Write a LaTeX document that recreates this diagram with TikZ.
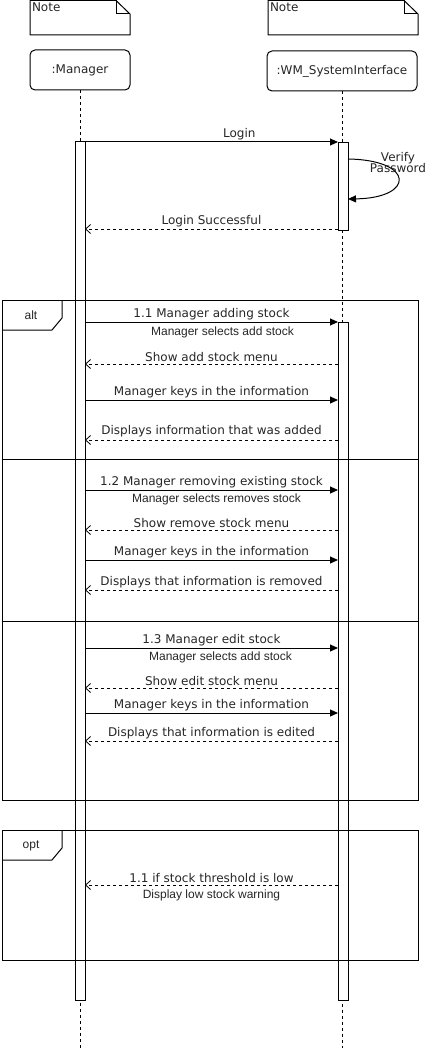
\documentclass[tikz,border=0pt]{standalone}
\usepackage{fontspec}
\setmainfont{DejaVu Sans}
\newfontfamily\arialfont{Liberation Sans}
\usetikzlibrary{arrows.meta}

\tikzset{
  lifehead/.style={draw,rounded corners=5pt,minimum height=40pt,inner sep=0pt,font=\fontsize{12}{14}\selectfont,text=black!85},
  activ/.style={draw,fill=white,minimum width=10pt,inner sep=0pt,outer sep=0pt},
  lifeline/.style={dash pattern=on 3pt off 3pt},
  msg/.style={-{Triangle[length=8pt,width=7pt]}},
  ret/.style={dash pattern=on 3pt off 3pt,-{Straight Barb[length=5pt,width=9pt,line width=.8pt]}},
  lbl/.style={font=\fontsize{12}{14}\selectfont,inner sep=1.5pt,text=black!85},
  sublbl/.style={font=\arialfont\fontsize{12}{14}\selectfont,inner sep=1.5pt,text=black!85},
}

\begin{document}
\begin{tikzpicture}[x=1pt,y=-1pt,line width=1pt]
  \useasboundingbox (0,0) rectangle (427,1051);
  % notas
  \draw (30,0.5) -- (116,0.5) -- (130,14) -- (130,35) -- (30,35) -- cycle;
  \draw (116,0.5) -- (116,14) -- (130,14);
  \node[lbl,anchor=west] (noteM) at (30,7) {Note};
  \draw (268,0.5) -- (404,0.5) -- (418,14) -- (418,35) -- (268,35) -- cycle;
  \draw (404,0.5) -- (404,14) -- (418,14);
  \node[lbl,anchor=west] (noteS) at (268,7) {Note};
  % participantes
  \node[lifehead,minimum width=100pt] (mgr) at (80,70) {:Manager};
  \node[lifehead,minimum width=150pt] (sys) at (342,71) {:WM\_SystemInterface};
  \draw[lifeline] (mgr) -- (mgr |- 0,1048);
  \draw[lifeline] (sys) -- (sys |- 0,1048);
  % ativacoes
  \node[activ,minimum height=858pt] (actM) at (80,571) {};
  \node[activ,minimum height=87pt] (actS1) at (343,186.5) {};
  \node[activ,minimum height=678pt] (actS2) at (343,661) {};
  % login
  \draw[msg] (actM.east |- 0,142) -- (actS1.west |- 0,142) node[lbl,pos=.61,above] (mLogin) {Login};
  \draw[msg] (actS1.east |- 0,159) .. controls (415,160) and (415,198) .. (actS1.east |- 0,199);
  \node[lbl,align=center] (mVerify) at (398,163) {Verify\\[-3pt]Password};
  \draw[ret] (actS1.west |- 0,229) -- (actM.east |- 0,229) node[lbl,midway,above] (mOk) {Login Successful};
  % fragmento alt
  \draw (2,300) rectangle (418,800);
  \draw (2,330) -- (52,330) -- (62,318) -- (62,300);
  \node[sublbl] (altTag) at (31,315) {alt};
  \draw (2,459) -- (418,459);             % separador 1
  \draw (2,621) -- (418,621);             % separador 2
  % 1.1
  \draw[msg] (actM.east |- 0,322) -- (actS2.west |- 0,322)
    node[lbl,midway,above] (m11) {1.1 Manager adding stock}
    node[sublbl,midway,below=3pt,xshift=11pt] (m11b) {Manager selects add stock};
  \draw[ret] (actS2.west |- 0,364) -- (actM.east |- 0,364) node[lbl,midway,above] (m12) {Show add stock menu};
  \draw[msg] (actM.east |- 0,400) -- (actS2.west |- 0,400) node[lbl,midway,above] (m13) {Manager keys in the information};
  \draw[ret] (actS2.west |- 0,440) -- (actM.east |- 0,440) node[lbl,midway,above,yshift=1pt] (m14) {Displays information that was added};
  % 1.2
  \draw[msg] (actM.east |- 0,490) -- (actS2.west |- 0,490)
    node[lbl,midway,above] (m21) {1.2 Manager removing existing stock}
    node[sublbl,midway,below=2pt,xshift=5pt] (m21b) {Manager selects removes stock};
  \draw[ret] (actS2.west |- 0,530) -- (actM.east |- 0,530) node[lbl,midway,above] (m22) {Show remove stock menu};
  \draw[msg] (actM.east |- 0,560) -- (actS2.west |- 0,560) node[lbl,midway,above] (m23) {Manager keys in the information};
  \draw[ret] (actS2.west |- 0,590) -- (actM.east |- 0,590) node[lbl,midway,above] (m24) {Displays that information is removed};
  % 1.3
  \draw[msg] (actM.east |- 0,648) -- (actS2.west |- 0,648)
    node[lbl,midway,above] (m31) {1.3 Manager edit stock}
    node[sublbl,midway,below=2pt,xshift=9pt] (m31b) {Manager selects add stock};
  \draw[ret] (actS2.west |- 0,688) -- (actM.east |- 0,688) node[lbl,midway,above] (m32) {Show edit stock menu};
  \draw[msg] (actM.east |- 0,713) -- (actS2.west |- 0,713) node[lbl,midway,above] (m33) {Manager keys in the information};
  \draw[ret] (actS2.west |- 0,741) -- (actM.east |- 0,741) node[lbl,midway,above] (m34) {Displays that information is edited};
  % fragmento opt
  \draw (2,830) rectangle (418,960);
  \draw (2,860) -- (52,860) -- (62,848) -- (62,830);
  \node[sublbl] (optTag) at (31,846) {opt};
  \draw[ret] (actS2.west |- 0,885) -- (actM.east |- 0,885)
    node[lbl,midway,above] (m41) {1.1 if stock threshold is low}
    node[sublbl,midway,below=3pt] (m41b) {Display low stock warning};
\end{tikzpicture}
\end{document}
